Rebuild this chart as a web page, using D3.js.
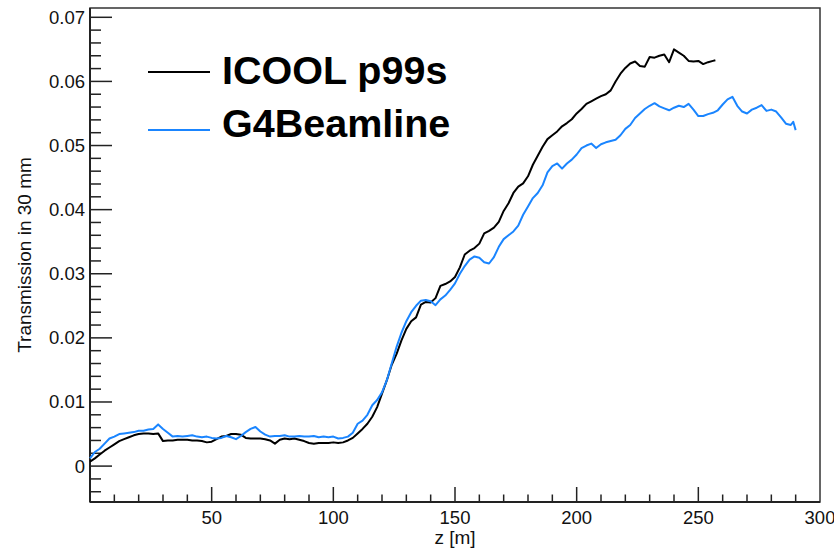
<!DOCTYPE html>
<html><head><meta charset="utf-8">
<script src="https://cdn.jsdelivr.net/npm/d3@7"></script>
<style>body{margin:0;background:#fff}svg{display:block}text{font-family:"Liberation Sans",Arial,sans-serif}</style>
</head><body>
<script>
const icoolZ = [0,2,4,6,8,10,12,14,16,18,20,22,24,26,28,30,32,34,36,38,40,42,44,46,48,50,52,54,56,58,60,62,64,66,68,70,72,74,76,78,80,82,84,86,88,90,92,94,96,98,100,102,104,106,108,110,112,114,116,118,120,122,124,126,128,130,132,134,136,138,140,142,144,146,148,150,152,154,156,158,160,162,164,166,168,170,172,174,176,178,180,182,184,186,188,190,192,194,196,198,200,202,204,206,208,210,212,214,216,218,220,222,224,226,228,230,232,234,236,238,240,242,244,246,248,250,252,254,256,257];
const icoolT = [0.0007,0.0012,0.0018,0.0024,0.0029,0.0034,0.0039,0.0042,0.0045,0.0048,0.0050,0.0051,0.0051,0.0050,0.0051,0.0039,0.0040,0.0040,0.0041,0.0041,0.0041,0.0040,0.0040,0.0039,0.0037,0.0038,0.0042,0.0046,0.0047,0.0050,0.0050,0.0049,0.0044,0.0043,0.0043,0.0043,0.0042,0.0040,0.0035,0.0041,0.0043,0.0042,0.0043,0.0041,0.0039,0.0036,0.0035,0.0036,0.0036,0.0036,0.0037,0.0036,0.0037,0.0040,0.0044,0.0051,0.0058,0.0066,0.0077,0.0092,0.0113,0.0134,0.0158,0.0175,0.0196,0.0214,0.0226,0.0232,0.0252,0.0256,0.0255,0.0262,0.0281,0.0284,0.0288,0.0295,0.0310,0.0330,0.0336,0.0340,0.0347,0.0363,0.0367,0.0372,0.0381,0.0398,0.0410,0.0426,0.0436,0.0441,0.0452,0.0470,0.0484,0.0498,0.0510,0.0516,0.0522,0.0530,0.0535,0.0541,0.0550,0.0557,0.0565,0.0569,0.0573,0.0577,0.0580,0.0586,0.0600,0.0612,0.0621,0.0628,0.0631,0.0624,0.0623,0.0638,0.0637,0.0640,0.0642,0.0630,0.0650,0.0645,0.0640,0.0632,0.0631,0.0632,0.0627,0.0630,0.0632,0.0633];
const g4blZ = [0,2,4,6,8,10,12,14,16,18,20,22,24,26,28,30,32,34,36,38,40,42,44,46,48,50,52,54,56,58,60,62,64,66,68,70,72,74,76,78,80,82,84,86,88,90,92,94,96,98,100,102,104,106,108,110,112,114,116,118,120,122,124,126,128,130,132,134,136,138,140,142,144,146,148,150,152,154,156,158,160,162,164,166,168,170,172,174,176,178,180,182,184,186,188,190,192,194,196,198,200,202,204,206,208,210,212,214,216,218,220,222,224,226,228,230,232,234,236,238,240,242,244,246,248,250,252,254,256,258,260,262,264,266,268,270,272,274,276,278,280,282,284,286,288,289,290];
const g4blT = [0.0012,0.0022,0.0027,0.0035,0.0043,0.0046,0.0050,0.0051,0.0052,0.0053,0.0055,0.0055,0.0057,0.0058,0.0065,0.0058,0.0052,0.0046,0.0047,0.0046,0.0047,0.0048,0.0046,0.0045,0.0046,0.0044,0.0043,0.0044,0.0047,0.0045,0.0042,0.0047,0.0053,0.0058,0.0061,0.0054,0.0049,0.0046,0.0047,0.0047,0.0048,0.0046,0.0046,0.0047,0.0046,0.0046,0.0047,0.0045,0.0046,0.0045,0.0046,0.0043,0.0044,0.0046,0.0052,0.0066,0.0071,0.0080,0.0095,0.0103,0.0115,0.0134,0.0160,0.0186,0.0208,0.0226,0.0240,0.0250,0.0258,0.0259,0.0257,0.0251,0.0260,0.0266,0.0275,0.0285,0.0300,0.0312,0.0322,0.0327,0.0325,0.0318,0.0316,0.0326,0.0342,0.0354,0.0360,0.0366,0.0375,0.0392,0.0405,0.0418,0.0426,0.0438,0.0458,0.0468,0.0472,0.0464,0.0472,0.0478,0.0486,0.0496,0.0500,0.0503,0.0496,0.0502,0.0505,0.0507,0.0509,0.0516,0.0526,0.0532,0.0543,0.0550,0.0557,0.0562,0.0566,0.0561,0.0558,0.0555,0.0559,0.0562,0.0560,0.0565,0.0556,0.0546,0.0546,0.0549,0.0551,0.0555,0.0564,0.0572,0.0576,0.0562,0.0553,0.0550,0.0556,0.0559,0.0563,0.0554,0.0556,0.0553,0.0544,0.0534,0.0532,0.0537,0.0524];
const xTicks = [50,100,150,200,250,300];
const yTicks = [0,0.01,0.02,0.03,0.04,0.05,0.06,0.07];
const seriesNames = ["ICOOL p99s","G4Beamline"];
const seriesColors = ["#000000","#1a85ff"];
const xTitle = "z [m]";
const yTitle = "Transmission in 30 mm";

const W=834,H=549, L=90, R=820, T=8, B=502;
const svg = d3.select("body").append("svg").attr("width",W).attr("height",H);
const x = d3.scaleLinear().domain([0,300]).range([L,R]);
const y = d3.scaleLinear().domain([-0.0056,0.07145]).range([B,T]);

// frame
svg.append("rect").attr("x",L).attr("y",T).attr("width",R-L).attr("height",B-T)
  .attr("fill","none").attr("stroke","#333").attr("stroke-width",1.5);

// x axis ticks (inside, pointing up)
const xMinor = d3.range(10,300,10).filter(v=>v%50!==0);
const gx = svg.append("g");
gx.selectAll("line.mj").data(xTicks.filter(v=>v<300)).join("line")
  .attr("x1",d=>x(d)).attr("x2",d=>x(d)).attr("y1",B).attr("y2",B-15).attr("stroke","#222").attr("stroke-width",1.5);
gx.selectAll("line.mn").data(xMinor).join("line")
  .attr("x1",d=>x(d)).attr("x2",d=>x(d)).attr("y1",B).attr("y2",B-7.5).attr("stroke","#222").attr("stroke-width",1.5);
gx.selectAll("text").data(xTicks).join("text")
  .attr("x",d=>x(d)).attr("y",523.5).attr("text-anchor","middle").attr("font-size",18.5).attr("fill","#111")
  .text(d=>d);
svg.append("line").attr("x1",L).attr("x2",R).attr("y1",B).attr("y2",B).attr("stroke","#222").attr("stroke-width",2);

// y axis
const yMinor = d3.range(-4,72,2).map(v=>v/1000).filter(v=>Math.round(v*1000)%10!==0 && v>=-0.0056 && v<=0.0714);
const gy = svg.append("g");
gy.selectAll("line.mj").data(yTicks).join("line")
  .attr("x1",L).attr("x2",L+22).attr("y1",d=>y(d)).attr("y2",d=>y(d)).attr("stroke","#222").attr("stroke-width",1.5);
gy.selectAll("line.mn").data(yMinor).join("line")
  .attr("x1",L).attr("x2",L+11).attr("y1",d=>y(d)).attr("y2",d=>y(d)).attr("stroke","#222").attr("stroke-width",1.5);
gy.selectAll("text").data(yTicks).join("text")
  .attr("x",85).attr("y",d=>y(d)+6.5).attr("text-anchor","end").attr("font-size",18.5).attr("fill","#111")
  .text(d=>d===0?"0":d3.format(".2f")(d));
svg.append("line").attr("x1",L).attr("x2",L).attr("y1",T).attr("y2",B).attr("stroke","#222").attr("stroke-width",2);

// titles
svg.append("text").attr("x",(L+R)/2).attr("y",544).attr("text-anchor","middle").attr("font-size",19).attr("fill","#111").text(xTitle);
svg.append("text").attr("transform","translate(31,"+((T+B)/2)+") rotate(-90)").attr("text-anchor","middle")
  .attr("font-size",19).attr("fill","#111").text(yTitle);

// lines
const line = d3.line().x(d=>x(d[0])).y(d=>y(d[1]));
const data1 = icoolZ.map((z,i)=>[z,icoolT[i]]);
const data2 = g4blZ.map((z,i)=>[z,g4blT[i]]);
svg.append("path").datum(data1).attr("d",line).attr("fill","none").attr("stroke",seriesColors[0]).attr("stroke-width",2).attr("stroke-linejoin","round");
svg.append("path").datum(data2).attr("d",line).attr("fill","none").attr("stroke",seriesColors[1]).attr("stroke-width",2).attr("stroke-linejoin","round");

// legend
const leg = svg.append("g");
const legY = [72,130];
const legBase = [83.5,137];
seriesNames.forEach((n,i)=>{
  leg.append("line").attr("x1",148).attr("x2",210).attr("y1",legY[i]).attr("y2",legY[i]).attr("stroke",seriesColors[i]).attr("stroke-width",2);
  leg.append("text").attr("x",222).attr("y",legBase[i]).attr("font-size",39.5).attr("font-weight","bold").attr("fill","#000").text(n);
});
</script>
</body></html>
